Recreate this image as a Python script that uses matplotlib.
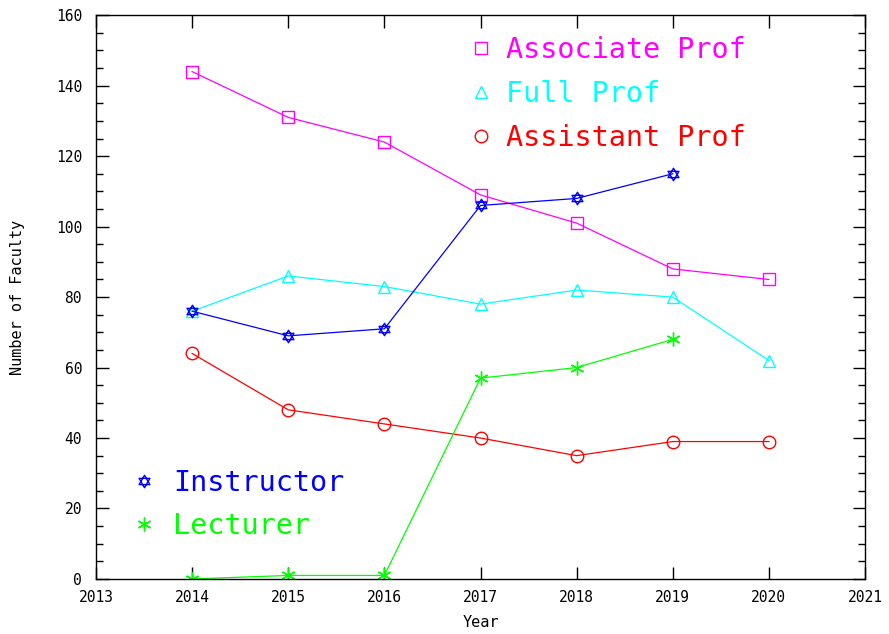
import numpy as np
import matplotlib
matplotlib.use("Agg")
import matplotlib.pyplot as plt
from matplotlib.path import Path
from matplotlib.lines import Line2D
from matplotlib.ticker import MultipleLocator

years = [2014, 2015, 2016, 2017, 2018, 2019, 2020]
assoc = [144, 131, 124, 109, 101, 88, 85]
full = [76, 86, 83, 78, 82, 80, 62]
assist = [64, 48, 44, 40, 35, 39, 39]
years_short = [2014, 2015, 2016, 2017, 2018, 2019]
instr = [76, 69, 71, 106, 108, 115]
lect = [0, 1, 1, 57, 60, 68]

# star of David marker: two overlapping triangles
ang_up = np.deg2rad([90, 210, 330])
ang_dn = np.deg2rad([270, 30, 150])
verts = []
codes = []
for a in (ang_up, ang_dn):
    pts = list(zip(np.cos(a), np.sin(a)))
    verts += pts + [pts[0]]
    codes += [Path.MOVETO, Path.LINETO, Path.LINETO, Path.CLOSEPOLY]
star = Path(verts, codes)

font = "DejaVu Sans Mono"
plt.rcParams["font.family"] = font

fig = plt.figure(figsize=(8.89, 6.34), dpi=100)
ax = fig.add_axes([0.108, 0.0868, 0.865, 0.8892])

ms = 9
ax.plot(years, assoc, color="#ff00ff", lw=0.9, marker="s", ms=ms, mfc="none", mew=1)
ax.plot(years, full, color="#00ffff", lw=0.9, marker="^", ms=ms, mfc="none", mew=1)
ax.plot(years, assist, color="#ff0000", lw=0.9, marker="o", ms=ms, mfc="none", mew=1)
ax.plot(years_short, instr, color="#0000ff", lw=0.9, marker=star, ms=ms, mfc="none", mew=1)
ax.plot(years_short, lect, color="#00ff00", lw=0.9, marker=(6, 2, 0), ms=ms + 1, mew=1)

ax.set_xlim(2013, 2021)
ax.set_ylim(0, 160)
ax.xaxis.set_major_locator(MultipleLocator(1))
ax.yaxis.set_major_locator(MultipleLocator(20))
ax.yaxis.set_minor_locator(MultipleLocator(5))
ax.tick_params(which="both", direction="in", top=True, right=True, labelsize=10.5,
               width=1, color="black")
ax.tick_params(which="major", length=9)
ax.tick_params(which="minor", length=5)
ax.tick_params(axis="x", pad=8)
ax.tick_params(axis="y", pad=10)
for s in ax.spines.values():
    s.set_linewidth(1)

ax.set_xlabel("Year", fontsize=11, labelpad=7)
ax.set_ylabel("Number of Faculty", fontsize=11, labelpad=22)

def handle(color, marker, size):
    return Line2D([], [], color=color, marker=marker, ls="none", ms=size, mfc="none", mew=1)

top_h = [handle("#ff00ff", "s", ms), handle("#00ffff", "^", ms), handle("#ff0000", "o", ms)]
top_l = ["Associate Prof", "Full Prof", "Assistant Prof"]
leg1 = ax.legend(top_h, top_l, loc="upper left", bbox_to_anchor=(0.449, 1.008), frameon=False,
                 fontsize=20.5, labelcolor="linecolor", handlelength=1.0, handletextpad=0.38,
                 labelspacing=0.55)
ax.add_artist(leg1)

bot_h = [handle("#0000ff", star, ms), handle("#00ff00", (6, 2, 0), ms + 1)]
bot_l = ["Instructor", "Lecturer"]
ax.legend(bot_h, bot_l, loc="lower left", bbox_to_anchor=(0.011, 0.023), frameon=False,
          fontsize=20.5, labelcolor="linecolor", handlelength=1.0, handletextpad=0.5,
          labelspacing=0.55)

fig.savefig("out.png", dpi=100)
